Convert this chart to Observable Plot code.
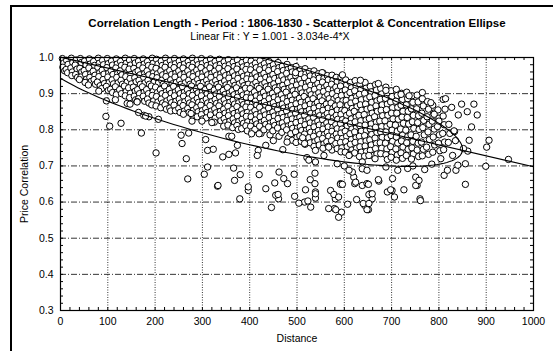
<!DOCTYPE html>
<html><head><meta charset="utf-8">
<script src="https://cdn.jsdelivr.net/npm/d3@7"></script>
<script src="https://cdn.jsdelivr.net/npm/@observablehq/plot@0.6"></script>
<style>
body{margin:0;background:#fff;font-family:"Liberation Sans",Arial,sans-serif;color:#000;}
#wrap{position:relative;width:553px;height:351px;overflow:hidden;background:#fff;}
#frame{position:absolute;left:10px;top:5px;width:700px;height:500px;border-left:2.5px solid #000;border-top:2px solid #000;}
#title{position:absolute;left:0;width:594px;top:16.5px;text-align:center;font-weight:bold;font-size:11.5px;white-space:nowrap;}
#subtitle{position:absolute;left:0;width:540px;top:29.5px;text-align:center;font-size:10.5px;white-space:nowrap;}
#chart{position:absolute;left:0;top:46px;}
</style></head>
<body>
<div id="wrap">
<div id="frame"></div>
<div id="title">Correlation Length - Period : 1806-1830 - Scatterplot &amp; Concentration Ellipse</div>
<div id="subtitle">Linear Fit : Y = 1.001 - 3.034e-4*X</div>
<div id="chart"></div>
</div>
<script>
// ---- axis ticks ----
const xTicks = [0,100,200,300,400,500,600,700,800,900,1000];
const yTicks = [0.3,0.4,0.5,0.6,0.7,0.8,0.9,1.0];
const xGrid = [100,200,300,400,500,600,700,800,900];
const yGrid = [0.4,0.5,0.6,0.7,0.8,0.9];
const xMinor = d3.range(0, 1001, 20);
const yMinor = d3.range(0.3, 1.0001, 0.02);

// ---- linear fit (from subtitle) ----
const fitIntercept = 1.001;
const fitSlope = -3.034e-4;

// ---- concentration ellipse parameters ----
const ellCenterX = 395;
const ellHalfWidthX = 455;
const ellHalfHeightY = 0.124;
const ellShiftY = 0.003;

// ---- scatter points: [distance, price correlation] ----
const cloud0to200 = [
[4,.997],[7,.985],[5,.973],[9,.963],
[13,.992],[16,.981],[12,.967],[15,.958],
[23,.998],[26,.986],[22,.971],[25,.960],[24,.950],
[33,.993],[31,.979],[35,.968],[32,.953],[36,.945],
[42,.997],[44,.986],[41,.970],[45,.960],[43,.946],[40,.939],
[51,.990],[54,.979],[50,.964],[53,.953],[55,.940],[52,.931],
[61,.996],[63,.982],[60,.971],[64,.955],[62,.945],[65,.934],[59,.924],
[70,.989],[72,.978],[69,.962],[73,.951],[71,.939],[74,.926],
[80,.998],[82,.984],[79,.973],[83,.958],[81,.947],[78,.932],[84,.922],
[89,.992],[91,.980],[88,.965],[92,.954],[90,.939],[93,.928],[87,.914],
[99,.997],[101,.983],[98,.972],[102,.957],[100,.946],[103,.931],[97,.920],[101,.909],
[108,.990],[110,.979],[107,.964],[111,.953],[109,.938],[112,.927],[106,.912],[110,.903],
[118,.996],[120,.982],[117,.971],[121,.956],[119,.945],[122,.930],[116,.919],[120,.904],[118,.897],
[127,.989],[129,.978],[126,.963],[130,.952],[128,.937],[131,.926],[125,.911],[129,.900],
[137,.998],[139,.984],[136,.973],[140,.958],[138,.947],[141,.932],[135,.921],[139,.906],[137,.894],
[146,.993],[148,.979],[145,.968],[149,.953],[147,.942],[150,.927],[144,.916],[148,.901],[146,.889],
[156,.997],[158,.985],[155,.970],[159,.959],[157,.944],[160,.933],[154,.918],[158,.907],[156,.893],[159,.883],
[165,.990],[167,.978],[164,.963],[168,.952],[166,.937],[169,.926],[163,.911],[167,.900],[165,.886],[162,.878],
[175,.996],[177,.982],[174,.971],[178,.956],[176,.945],[179,.930],[173,.919],[177,.904],[175,.893],[178,.879],
[184,.989],[186,.978],[183,.963],[187,.952],[185,.937],[188,.926],[182,.911],[186,.900],[184,.885],[187,.874],
[194,.998],[196,.984],[193,.973],[197,.958],[195,.947],[198,.932],[192,.921],[196,.906],[194,.895],[197,.880],[193,.869]
];
const cloud200to400 = [
[203,.995],[206,.982],[202,.970],[205,.955],[204,.944],[207,.929],[201,.918],[205,.903],[203,.892],[206,.877],[202,.866],
[213,.990],[215,.978],[212,.963],[216,.952],[214,.937],[217,.926],[211,.911],[215,.900],[213,.885],[216,.874],[212,.861],
[222,.998],[224,.984],[221,.973],[225,.958],[223,.947],[226,.932],[220,.921],[224,.906],[222,.895],[225,.880],[221,.869],[224,.857],
[232,.991],[234,.979],[231,.964],[235,.953],[233,.938],[236,.927],[230,.912],[234,.901],[232,.886],[235,.875],[231,.860],[233,.852],
[241,.997],[243,.983],[240,.972],[244,.957],[242,.946],[245,.931],[239,.920],[243,.905],[241,.894],[244,.879],[240,.868],[243,.853],
[251,.990],[253,.978],[250,.963],[254,.952],[252,.937],[255,.926],[249,.911],[253,.900],[251,.885],[254,.874],[250,.859],[253,.848],
[260,.996],[262,.982],[259,.971],[263,.956],[261,.945],[264,.930],[258,.919],[262,.904],[260,.893],[263,.878],[259,.867],[262,.852],[260,.843],
[270,.989],[272,.978],[269,.963],[273,.952],[271,.937],[274,.926],[268,.911],[272,.900],[270,.885],[273,.874],[269,.859],[272,.848],
[279,.998],[281,.984],[278,.973],[282,.958],[280,.947],[283,.932],[277,.921],[281,.906],[279,.895],[282,.880],[278,.869],[281,.854],[279,.840],
[289,.992],[291,.980],[288,.965],[292,.954],[290,.939],[293,.928],[287,.913],[291,.902],[289,.887],[292,.876],[288,.861],[291,.850],[289,.836],
[298,.997],[300,.983],[297,.972],[301,.957],[299,.946],[302,.931],[296,.920],[300,.905],[298,.894],[301,.879],[297,.868],[300,.853],[298,.842],[301,.830],
[308,.990],[310,.978],[307,.963],[311,.952],[309,.937],[312,.926],[306,.911],[310,.900],[308,.885],[311,.874],[307,.859],[310,.848],[308,.833],
[317,.996],[319,.982],[316,.971],[320,.956],[318,.945],[321,.930],[315,.919],[319,.904],[317,.893],[320,.878],[316,.867],[319,.852],[317,.841],[320,.826],
[327,.989],[329,.977],[326,.962],[330,.951],[328,.936],[331,.925],[325,.910],[329,.899],[327,.884],[330,.873],[326,.858],[329,.847],[327,.832],[325,.821],
[336,.995],[338,.981],[335,.970],[339,.955],[337,.944],[340,.929],[334,.918],[338,.903],[336,.892],[339,.877],[335,.866],[338,.851],[336,.840],[339,.825],
[346,.988],[348,.976],[345,.961],[349,.950],[347,.935],[350,.924],[344,.909],[348,.898],[346,.883],[349,.872],[345,.857],[348,.846],[346,.831],[349,.820],[345,.810],
[355,.994],[357,.980],[354,.969],[358,.954],[356,.943],[359,.928],[353,.917],[357,.902],[355,.891],[358,.876],[354,.865],[357,.850],[355,.839],[358,.824],[354,.813],
[365,.987],[367,.975],[364,.960],[368,.949],[366,.934],[369,.923],[363,.908],[367,.897],[365,.882],[368,.871],[364,.856],[367,.845],[365,.830],[368,.819],[364,.806],
[374,.993],[376,.979],[373,.968],[377,.953],[375,.942],[378,.927],[372,.916],[376,.901],[374,.890],[377,.875],[373,.864],[376,.849],[374,.838],[377,.823],[373,.812],[376,.801],
[384,.986],[386,.974],[383,.959],[387,.948],[385,.933],[388,.922],[382,.907],[386,.896],[384,.881],[387,.870],[383,.855],[386,.844],[384,.829],[387,.818],[383,.803],
[393,.992],[395,.978],[392,.967],[396,.952],[394,.941],[397,.926],[391,.915],[395,.900],[393,.889],[396,.874],[392,.863],[395,.848],[393,.837],[396,.822],[392,.811],[395,.797]
];
const cloud400to600 = [
[403,.990],[405,.977],[402,.966],[406,.951],[404,.940],[407,.925],[401,.914],[405,.899],[403,.888],[406,.873],[402,.862],[405,.847],[403,.836],[406,.821],[402,.810],[405,.795],
[412,.984],[414,.972],[411,.957],[415,.946],[413,.931],[416,.920],[410,.905],[414,.894],[412,.879],[415,.868],[411,.853],[414,.842],[412,.827],[415,.816],[411,.801],
[422,.991],[424,.977],[421,.966],[425,.951],[423,.940],[426,.925],[420,.914],[424,.899],[422,.888],[425,.873],[421,.862],[424,.847],[422,.836],[425,.821],[421,.810],[424,.790],
[431,.983],[433,.971],[430,.956],[434,.945],[432,.930],[435,.919],[429,.904],[433,.893],[431,.878],[434,.867],[430,.852],[433,.841],[431,.826],[434,.815],[430,.800],
[441,.989],[443,.975],[440,.964],[444,.949],[442,.938],[445,.923],[439,.912],[443,.897],[441,.886],[444,.871],[440,.860],[443,.845],[441,.834],[444,.819],[440,.808],[443,.786],
[450,.980],[452,.968],[449,.953],[453,.942],[451,.927],[454,.916],[448,.901],[452,.890],[450,.875],[453,.864],[449,.849],[452,.838],[450,.823],[453,.812],[449,.797],
[460,.986],[462,.972],[459,.961],[463,.946],[461,.935],[464,.920],[458,.909],[462,.894],[460,.883],[463,.868],[459,.857],[462,.842],[460,.831],[463,.816],[459,.805],[462,.782],
[469,.976],[471,.964],[468,.949],[472,.938],[470,.923],[473,.912],[467,.897],[471,.886],[469,.871],[472,.860],[468,.845],[471,.834],[469,.819],[472,.808],[468,.793],
[479,.981],[481,.967],[478,.956],[482,.941],[480,.930],[483,.915],[477,.904],[481,.889],[479,.878],[482,.863],[478,.852],[481,.837],[479,.826],[482,.811],[478,.800],[481,.776],
[488,.972],[490,.960],[487,.945],[491,.934],[489,.919],[492,.908],[486,.893],[490,.882],[488,.867],[491,.856],[487,.841],[490,.830],[488,.815],[491,.804],[487,.789],[490,.771],
[498,.975],[500,.961],[497,.950],[501,.935],[499,.924],[502,.909],[496,.898],[500,.883],[498,.872],[501,.857],[497,.846],[500,.831],[498,.820],[501,.805],[497,.794],[500,.779],[498,.765],
[507,.966],[509,.954],[506,.939],[510,.928],[508,.913],[511,.902],[505,.887],[509,.876],[507,.861],[510,.850],[506,.835],[509,.824],[507,.809],[510,.798],[506,.783],[509,.768],
[517,.969],[519,.955],[516,.944],[520,.929],[518,.918],[521,.903],[515,.892],[519,.877],[517,.866],[520,.851],[516,.840],[519,.825],[517,.814],[520,.799],[516,.788],[519,.773],[517,.760],
[526,.961],[528,.949],[525,.934],[529,.923],[527,.908],[530,.897],[524,.882],[528,.871],[526,.856],[529,.845],[525,.830],[528,.819],[526,.804],[529,.793],[525,.778],[528,.764],
[536,.963],[538,.949],[535,.938],[539,.923],[537,.912],[540,.897],[534,.886],[538,.871],[536,.860],[539,.845],[535,.834],[538,.819],[536,.808],[539,.793],[535,.782],[538,.767],[536,.754],
[545,.955],[547,.943],[544,.928],[548,.917],[546,.902],[549,.891],[543,.876],[547,.865],[545,.850],[548,.839],[544,.824],[547,.813],[545,.798],[548,.787],[544,.772],[547,.758],
[555,.957],[557,.943],[554,.932],[558,.917],[556,.906],[559,.891],[553,.880],[557,.865],[555,.854],[558,.839],[554,.828],[557,.813],[555,.802],[558,.787],[554,.776],[557,.761],[555,.749],
[564,.950],[566,.938],[563,.923],[567,.912],[565,.897],[568,.886],[562,.871],[566,.860],[564,.845],[567,.834],[563,.819],[566,.808],[564,.793],[567,.782],[563,.767],[566,.754],
[574,.951],[576,.937],[573,.926],[577,.911],[575,.900],[578,.885],[572,.874],[576,.859],[574,.848],[577,.833],[573,.822],[576,.807],[574,.796],[577,.781],[573,.770],[576,.755],[574,.744],
[583,.945],[585,.933],[582,.918],[586,.907],[584,.892],[587,.881],[581,.866],[585,.855],[583,.840],[586,.829],[582,.814],[585,.803],[583,.788],[586,.777],[582,.762],[585,.748],
[593,.946],[595,.932],[592,.921],[596,.906],[594,.895],[597,.880],[591,.869],[595,.854],[593,.843],[596,.828],[592,.817],[595,.802],[593,.791],[596,.776],[592,.765],[595,.750],[593,.739]
];
const cloud600to850 = [
[603,.938],[605,.924],[602,.910],[606,.897],[604,.881],[607,.868],[601,.853],[605,.840],[603,.824],[606,.811],[602,.796],[605,.782],[603,.767],[606,.753],[602,.738],
[613,.931],[615,.916],[612,.903],[616,.887],[614,.874],[617,.859],[611,.846],[615,.830],[613,.817],[616,.802],[612,.789],[615,.773],[613,.760],[616,.744],[612,.732],
[623,.936],[625,.921],[622,.908],[626,.892],[624,.879],[627,.864],[621,.851],[625,.835],[623,.822],[626,.807],[622,.794],[625,.778],[623,.765],[626,.749],[622,.736],
[633,.926],[635,.912],[632,.898],[636,.883],[634,.869],[637,.854],[631,.840],[635,.825],[633,.811],[636,.796],[632,.782],[635,.767],[633,.753],[636,.738],[632,.726],
[644,.931],[646,.915],[643,.901],[647,.886],[645,.871],[648,.857],[642,.842],[646,.827],[644,.813],[647,.798],[643,.784],[646,.769],[644,.755],[647,.740],[643,.727],
[655,.920],[657,.905],[654,.891],[658,.876],[656,.860],[659,.846],[653,.831],[657,.816],[655,.802],[658,.787],[654,.772],[657,.758],[655,.743],[658,.729],
[666,.925],[668,.910],[665,.895],[669,.880],[667,.866],[670,.851],[664,.836],[668,.821],[666,.807],[669,.792],[665,.777],[668,.762],[666,.748],[669,.733],[665,.720],
[677,.914],[679,.899],[676,.884],[680,.869],[678,.854],[681,.839],[675,.824],[679,.809],[677,.794],[680,.779],[676,.764],[679,.749],[677,.734],
[688,.918],[690,.902],[687,.887],[691,.871],[689,.856],[692,.840],[686,.825],[690,.809],[688,.794],[691,.778],[687,.763],[690,.747],[688,.731],[691,.718],
[699,.908],[701,.892],[698,.877],[702,.861],[700,.846],[703,.830],[697,.815],[701,.799],[699,.784],[702,.768],[698,.753],[701,.737],[699,.724],
[710,.912],[712,.895],[709,.879],[713,.862],[711,.846],[714,.829],[708,.813],[712,.796],[710,.780],[713,.763],[709,.747],[712,.730],[710,.716],
[721,.901],[723,.884],[720,.868],[724,.851],[722,.835],[725,.818],[719,.802],[723,.785],[721,.769],[724,.752],[720,.736],[723,.721],
[732,.904],[734,.886],[731,.869],[735,.851],[733,.834],[736,.816],[730,.799],[734,.781],[732,.764],[735,.746],[731,.729],
[743,.894],[745,.876],[742,.858],[746,.840],[744,.822],[747,.804],[741,.786],[745,.768],[743,.750],[746,.733],[742,.719],
[754,.896],[756,.877],[753,.858],[757,.839],[755,.820],[758,.801],[752,.782],[756,.763],[754,.744],[757,.726],
[765,.886],[767,.866],[764,.846],[768,.826],[766,.806],[769,.786],[763,.766],[767,.746],[765,.728],
[776,.878],[778,.857],[775,.836],[779,.815],[777,.794],[780,.773],[774,.752],[778,.732],
[787,.868],[789,.846],[786,.824],[790,.802],[788,.780],[791,.758],[787,.738],
[798,.855],[800,.832],[797,.809],[801,.786],[799,.763],[802,.742],
[809,.838],[811,.814],[808,.790],[812,.766],[810,.745],
[821,.815],[823,.790],[820,.765],
[833,.795],[835,.770]
];
const scatteredLow = [
[81,.907],[97,.880],[116,.883],[96,.837],[104,.810],[128,.818],[141,.873],[162,.877],[176,.840],[187,.836],[147,.871],[165,.848],[180,.838],[207,.829],[276,.845],[278,.824],[299,.824],[320,.820],
[171,.791],[202,.736],[255,.785],[271,.791],[257,.762],[266,.720],[269,.664],[307,.773],[311,.743],[323,.746],[311,.697],[304,.677],[332,.644],
[356,.782],[362,.782],[333,.646],[343,.725],[356,.732],[370,.736],[374,.757],[366,.694],[380,.676],[368,.660],[379,.609],[397,.632],[397,.642],[404,.789],[420,.789],[418,.743],[416,.729],[420,.676],[434,.637],[453,.653],[462,.683],[472,.665],[480,.651],[458,.619],[461,.609],[446,.585],[494,.677],[512,.778],[516,.762],[521,.723],[516,.600],[528,.662],[538,.680],[538,.651],[539,.628],[539,.611],[579,.582],[567,.582],[592,.651],[581,.609],[594,.572],[539,.711],[557,.729],[620,.669],[617,.683],[622,.651],[638,.646],[648,.651],[655,.623],[659,.609],[643,.591],[651,.579],[626,.607],[638,.692],[648,.688],[610,.688],
[434,.757],[479,.766],[539,.743],[567,.752],[610,.729],[525,.716],[585,.706],[638,.711],[652,.729],[600,.700],[470,.745],[450,.770],
[455,.619],[460,.621],[495,.616],[504,.597],[518,.634],[523,.603],[529,.586],[539,.623],[571,.632],[578,.621],[582,.579],[588,.558],[588,.614],[592,.649],[596,.649],[607,.594],[624,.655],[640,.596],[648,.579],[651,.649],[652,.621],[659,.623],[652,.596],[673,.658],[691,.628],[701,.632],[706,.614],[726,.634],[754,.646],[760,.609],[761,.604],
[672,.662],[688,.697],[698,.634],[702,.665],[751,.669],[751,.646],[758,.660],[734,.693],[713,.688],[745,.700],[770,.690],[785,.705]
];
const scatteredRight = [
[811,.674],[818,.688],[836,.688],[840,.702],[856,.706],[856,.649],[861,.741],[852,.748],[864,.771],[829,.729],[899,.699],[901,.752],[906,.771],[947,.718],[804,.720],
[809,.884],[813,.857],[827,.862],[848,.871],[841,.841],[860,.850],[874,.871],[881,.841],[869,.808],[783,.875],[790,.843],[800,.824],[765,.903],[737,.894],[720,.898],[832,.797],[672,.928],[688,.909],[814,.886],
[553,.958],[596,.952],[634,.937],[497,.958]
];

// ---- build tables ----
const points = [...cloud0to200, ...cloud200to400, ...cloud400to600, ...cloud600to850, ...scatteredLow, ...scatteredRight]
  .map(([d, r]) => ({distance: d, correlation: r}));
const fitLine = [0, 1000].map(d => ({distance: d, correlation: fitIntercept + fitSlope * d}));
const ellCenterY = fitIntercept + fitSlope * ellCenterX + ellShiftY;
const ellipse = d3.range(0, 361, 2).map(a => {
  const t = a * Math.PI / 180;
  const x = ellCenterX + ellHalfWidthX * Math.cos(t);
  return {distance: x, correlation: ellCenterY + fitSlope * (x - ellCenterX) + ellHalfHeightY * Math.sin(t)};
});

const W = 553, H = 305, mL = 60, mR = 20, mT = 11, mB = 41;
const plotH = H - mT - mB, plotW = W - mL - mR;

const chart = Plot.plot({
  width: W, height: H,
  marginLeft: mL, marginRight: mR, marginTop: mT, marginBottom: mB,
  style: {fontFamily: "'Liberation Sans', Arial, sans-serif", fontSize: "10.5px", color: "#000", background: "transparent", overflow: "visible"},
  x: {domain: [0, 1000]},
  y: {domain: [0.3, 1.0]},
  marks: [
    Plot.ruleY(yGrid, {stroke: "#000", strokeWidth: 0.8, strokeDasharray: "6,2,1,2"}),
    Plot.ruleX(xGrid, {stroke: "#000", strokeWidth: 0.8, strokeDasharray: "1,1.5"}),
    Plot.tickX(xMinor, {x: d => d, insetTop: plotH - 3, stroke: "#000"}),
    Plot.tickX(xMinor, {x: d => d, insetBottom: plotH - 3, stroke: "#000"}),
    Plot.tickY(yMinor, {y: d => d, insetRight: plotW - 3, stroke: "#000"}),
    Plot.tickY(yMinor, {y: d => d, insetLeft: plotW - 3, stroke: "#000"}),
    Plot.axisX({ticks: xTicks, tickSize: 0, tickPadding: 7, tickFormat: d => String(d), label: "Distance", labelAnchor: "center", labelOffset: 31, labelArrow: "none"}),
    Plot.axisY({ticks: yTicks, tickSize: 0, tickPadding: 7, tickFormat: d3.format(".1f"), label: "Price Correlation", labelAnchor: "center", labelOffset: 40, labelArrow: "none"}),
    Plot.dot(points, {x: "distance", y: "correlation", r: 3.2, fill: "white", stroke: "black", strokeWidth: 1}),
    Plot.line(ellipse, {x: "distance", y: "correlation", stroke: "black", strokeWidth: 1.1, clip: true, curve: "linear"}),
    Plot.line(fitLine, {x: "distance", y: "correlation", stroke: "black", strokeWidth: 1.1}),
    Plot.frame({stroke: "black", strokeWidth: 1.2})
  ]
});
document.getElementById("chart").appendChild(chart);
</script>
</body></html>
